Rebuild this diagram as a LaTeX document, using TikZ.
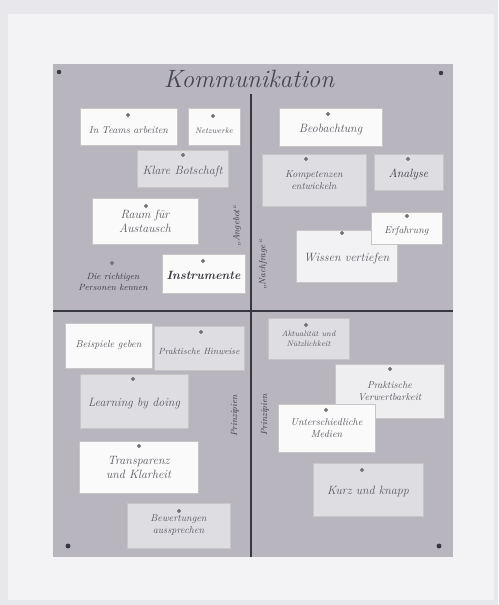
\documentclass[tikz,border=0pt]{standalone}
\definecolor{seite}{RGB}{232,232,236}
\definecolor{seitehell}{RGB}{243,243,245}
\definecolor{pinnwand}{RGB}{184,181,190}
\definecolor{kartegrau}{RGB}{222,221,226}
\definecolor{kartehell}{RGB}{250,250,251}
\definecolor{schrift}{RGB}{88,88,96}
\definecolor{nadel}{RGB}{55,55,62}

\begin{document}
\begin{tikzpicture}[x=1pt,y=-1pt,
    karte/.style={draw=gray!45, fill=kartehell, align=center, text=schrift, font=\itshape, inner sep=1pt},
    graukarte/.style={karte, fill=kartegrau},
    tiefer/.style={text height=13pt},
    randtext/.style={text=nadel, font=\itshape\small, rotate=90}] %Pinnwand
            \useasboundingbox (0,0) rectangle (498,605);
            \fill[seite] (0,0) rectangle (498,605);
            \fill[seitehell] (8,14) rectangle (494,600);

            \fill[pinnwand] (53,64) rectangle (453,557);
            \draw[nadel, line width=1.1pt] (251,94) -- (251,557);
            \draw[nadel, line width=1.1pt] (53,311) -- (453,311);

            \node[text=schrift!80!black, font=\itshape\fontsize{25}{28}\selectfont] (titel) at (249,79) {Kommunikation};

            % Angebot
            \node[karte, tiefer, minimum width=97, minimum height=37] (teams) at (128.5,127) {In Teams arbeiten};
            \node[karte, tiefer, minimum width=52, minimum height=37, font=\itshape\footnotesize] (netzwerke) at (214,127) {Netzwerke};
            \node[graukarte, tiefer, minimum width=91, minimum height=37, font=\itshape\large] (botschaft) at (182.5,169) {Klare Botschaft};
            \node[karte, minimum width=106, minimum height=46, font=\itshape\large] (raum) at (145,221) {Raum f\"ur\\Austausch};
            \node[text=nadel, align=center, font=\itshape\small] (personen) at (113,282) {Die richtigen\\Personen kennen};
            \node[karte, tiefer, minimum width=83, minimum height=39, text=nadel, font=\bfseries\itshape\large] (instrumente) at (203.5,273.5) {Instrumente};
            \node[randtext] (angebot) at (237,226) {„Angebot“};

            % Nachfrage
            \node[karte, tiefer, minimum width=103, minimum height=38, font=\itshape\large] (beobachtung) at (330.5,127) {Beobachtung};
            \node[graukarte, minimum width=104, minimum height=52] (kompetenzen) at (314,180) {Kompetenzen\\entwickeln};
            \node[graukarte, tiefer, minimum width=69, minimum height=36, text=nadel, font=\itshape\large] (analyse) at (408.5,172) {Analyse};
            \node[karte, tiefer, fill=kartegrau!40, minimum width=101, minimum height=52, font=\itshape\large] (wissen) at (346.5,256) {Wissen vertiefen};
            \node[karte, tiefer, minimum width=71, minimum height=32] (erfahrung) at (406.5,228) {Erfahrung};
            \node[randtext] (nachfrage) at (263,265) {„Nachfrage“};

            % Prinzipien links
            \node[karte, minimum width=87, minimum height=45] (beispiele) at (108.5,345.5) {Beispiele geben};
            \node[graukarte, tiefer, minimum width=90, minimum height=44, font=\itshape\small] (hinweise) at (199,348) {Praktische Hinweise};
            \node[graukarte, tiefer, minimum width=108, minimum height=54, font=\itshape\large] (learning) at (134,401) {Learning by doing};
            \node[karte, minimum width=119, minimum height=52, font=\itshape\large] (transparenz) at (138.5,467) {Transparenz\\und Klarheit};
            \node[graukarte, minimum width=103, minimum height=45] (bewertungen) at (178.5,525.5) {Bewertungen\\aussprechen};
            \node[randtext] (prinzipienlinks) at (235,416) {Prinzipien};

            % Prinzipien rechts
            \node[graukarte, minimum width=81, minimum height=41, font=\itshape\footnotesize] (aktualitaet) at (308.5,338.5) {Aktualit\"at und\\N\"utzlichkeit};
            \node[karte, fill=kartegrau!50, minimum width=109, minimum height=54] (verwertbarkeit) at (389.5,391) {Praktische\\Verwertbarkeit};
            \node[karte, minimum width=97, minimum height=48] (medien) at (326.5,428) {Unterschiedliche\\Medien};
            \node[graukarte, tiefer, minimum width=110, minimum height=53, font=\itshape\large] (kurz) at (368,489.5) {Kurz und knapp};
            \node[randtext] (prinzipienrechts) at (265,415) {Prinzipien};

            % Nadeln
            \filldraw[nadel] (59,72) circle (2pt);
            \filldraw[nadel] (441,73) circle (2pt);
            \filldraw[nadel] (68,546) circle (2.2pt);
            \filldraw[nadel] (439,546) circle (2.2pt);
            \filldraw[nadel!70] (128,115) circle (1.8pt);
            \filldraw[nadel!70] (213,116) circle (1.8pt);
            \filldraw[nadel!70] (183,155) circle (1.8pt);
            \filldraw[nadel!70] (146,206) circle (1.8pt);
            \filldraw[nadel!70] (112,263) circle (1.8pt);
            \filldraw[nadel!70] (203,261) circle (1.8pt);
            \filldraw[nadel!70] (328,114) circle (1.8pt);
            \filldraw[nadel!70] (306,159) circle (1.8pt);
            \filldraw[nadel!70] (408,159) circle (1.8pt);
            \filldraw[nadel!70] (407,216) circle (1.8pt);
            \filldraw[nadel!70] (342,233) circle (1.8pt);
            \filldraw[nadel!70] (201,332) circle (1.8pt);
            \filldraw[nadel!70] (133,379) circle (1.8pt);
            \filldraw[nadel!70] (139,446) circle (1.8pt);
            \filldraw[nadel!70] (179,511) circle (1.8pt);
            \filldraw[nadel!70] (306,325) circle (1.8pt);
            \filldraw[nadel!70] (390,369) circle (1.8pt);
            \filldraw[nadel!70] (326,410) circle (1.8pt);
            \filldraw[nadel!70] (362,470) circle (1.8pt);
        \end{tikzpicture}
\end{document}
